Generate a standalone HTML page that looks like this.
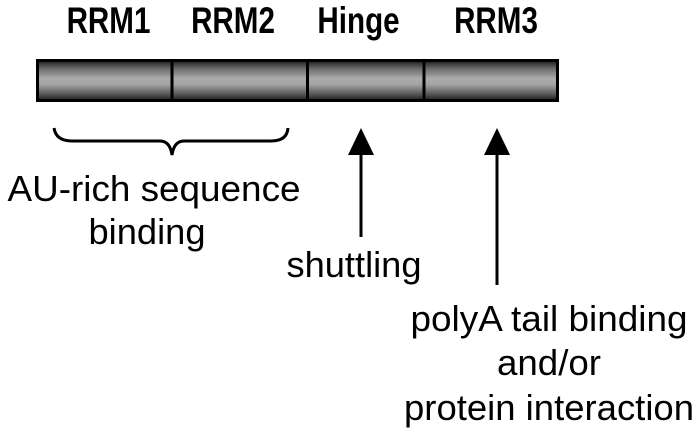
<!DOCTYPE html>
<html><head><style>html,body{margin:0;padding:0;background:#fff;}svg{display:block}</style></head>
<body>
<svg width="699" height="433" viewBox="0 0 699 433" xmlns="http://www.w3.org/2000/svg">
<defs>
<linearGradient id="g" x1="0" y1="0" x2="0" y2="1">
<stop offset="0" stop-color="#1a1a1a"/>
<stop offset="0.2" stop-color="#6a6a6a"/>
<stop offset="0.45" stop-color="#ababab"/>
<stop offset="0.6" stop-color="#a4a4a4"/>
<stop offset="0.85" stop-color="#555"/>
<stop offset="1" stop-color="#1a1a1a"/>
</linearGradient>
</defs>
<g font-family="Liberation Sans, Arial, sans-serif" font-weight="bold" font-size="37" fill="#000" text-anchor="middle">
<text x="0" y="33" transform="translate(108.5 0) scale(0.8 1)">RRM1</text>
<text x="0" y="33" transform="translate(233 0) scale(0.8 1)">RRM2</text>
<text x="0" y="33" transform="translate(358.5 0) scale(0.8 1)">Hinge</text>
<text x="0" y="33" transform="translate(496 0) scale(0.8 1)">RRM3</text>
</g>
<rect x="37.5" y="60.5" width="520" height="40" fill="url(#g)" stroke="#000" stroke-width="3"/>
<line x1="172" y1="60" x2="172" y2="101" stroke="#000" stroke-width="3"/>
<line x1="307.5" y1="60" x2="307.5" y2="101" stroke="#000" stroke-width="3"/>
<line x1="424" y1="60" x2="424" y2="101" stroke="#000" stroke-width="3"/>
<path d="M54 128 Q56 141 72 141 L160 141 Q170 141 172 155 Q174 141 184 141 L271 141 Q287 141 288 128" fill="none" stroke="#000" stroke-width="3"/>
<line x1="361" y1="150" x2="361" y2="237" stroke="#000" stroke-width="3"/>
<polygon points="361,128 348,155 374,155" fill="#000"/>
<line x1="497" y1="150" x2="497" y2="285" stroke="#000" stroke-width="3"/>
<polygon points="497,128 484,155 510,155" fill="#000"/>
<g font-family="Liberation Sans, Arial, sans-serif" font-size="36" fill="#000" text-anchor="middle">
<text x="154" y="201" textLength="293" lengthAdjust="spacingAndGlyphs">AU-rich sequence</text>
<text x="147" y="244" textLength="117" lengthAdjust="spacingAndGlyphs">binding</text>
<text x="354" y="277" textLength="135" lengthAdjust="spacingAndGlyphs">shuttling</text>
<text x="549" y="331" textLength="277" lengthAdjust="spacingAndGlyphs">polyA tail binding</text>
<text x="549" y="375" textLength="104" lengthAdjust="spacingAndGlyphs">and/or</text>
<text x="549" y="420" textLength="290" lengthAdjust="spacingAndGlyphs">protein interaction</text>
</g>
</svg>
</body></html>
